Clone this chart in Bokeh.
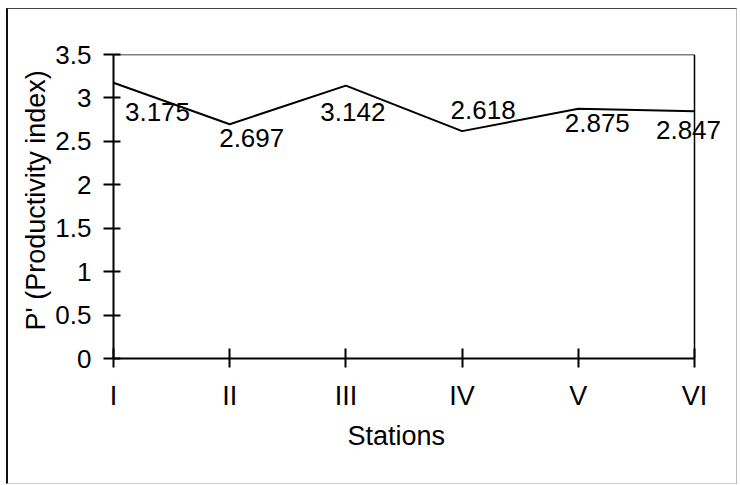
from bokeh.plotting import figure
from bokeh.models import Range1d, FixedTicker, Label, Title
from bokeh.embed import file_html
from bokeh.resources import INLINE

# ---- data ----
stations = ["I", "II", "III", "IV", "V", "VI"]
productivity = [3.175, 2.697, 3.142, 2.618, 2.875, 2.847]
label_texts = ["3.175", "2.697", "3.142", "2.618", "2.875", "2.847"]
y_ticks = [0, 0.5, 1, 1.5, 2, 2.5, 3, 3.5]
x_title = "Stations"
y_title = "P' (Productivity index)"

# ---- label placement (screen pixels, style only) ----
label_dx = [44, 22, 7, 21, 19, -6]
label_dy = [-29, -14, -26, 21, -14, -19]

FONT = "Liberation Sans"
positions = list(range(len(stations)))
x_last = positions[-1]
y_top = y_ticks[-1]

W, H = 731, 476
MB_L, MB_R, MB_T, MB_B = 105, 8, 45, 127
AXIS_PX = 581                      # pixel length of the I..VI span
frame_px = W - MB_L - MB_R
x_end = x_last * frame_px / AXIS_PX  # extra room right of VI for the last label

p = figure(width=W, height=H, output_backend="svg", toolbar_location=None,
           x_range=Range1d(0, x_end), y_range=Range1d(0, y_top),
           min_border_left=MB_L, min_border_right=MB_R, min_border_top=MB_T,
           min_border_bottom=MB_B)
p.styles = {"margin-left": "6px", "margin-top": "8px",
            "border-left": "2px solid #111", "border-top": "1px solid #444",
            "border-right": "1px solid #bbb", "border-bottom": "1px solid #ccc"}

p.xgrid.visible = False
p.ygrid.visible = False
p.outline_line_color = None
p.background_fill_color = "white"
p.border_fill_color = "white"

# top and right frame lines of the plot area (I..VI, 0..3.5)
p.segment(x0=[positions[0], x_last], y0=[y_top, y_ticks[0]],
          x1=[x_last, x_last], y1=[y_top, y_top],
          line_color="black", line_width=1.5)

p.line(positions, productivity, line_color="black", line_width=2)

for xi, yi, txt, dx, dy in zip(positions, productivity, label_texts, label_dx, label_dy):
    p.add_layout(Label(x=xi, y=yi, text=txt, x_offset=dx, y_offset=dy,
                       text_align="center", text_baseline="middle",
                       text_font=FONT, text_font_size="26px",
                       text_color="black"))

# x axis
p.xaxis.ticker = FixedTicker(ticks=positions)
p.xaxis.bounds = (positions[0], x_last)
p.xaxis.major_label_overrides = {i: s for i, s in enumerate(stations)}
# y axis
p.yaxis.ticker = FixedTicker(ticks=y_ticks)
p.yaxis.major_label_overrides = {t: (str(int(t)) if float(t).is_integer() else str(t)) for t in y_ticks}

for ax in (p.xaxis[0], p.yaxis[0]):
    ax.axis_line_color = "black"
    ax.axis_line_width = 2
    ax.major_tick_line_color = "black"
    ax.major_tick_line_width = 2
    ax.minor_tick_line_color = None
    ax.major_label_text_font = FONT
    ax.major_label_text_color = "black"

p.xaxis.major_label_text_font_size = "27px"
p.yaxis.major_label_text_font_size = "26px"

p.xaxis.major_tick_in = 10
p.xaxis.major_tick_out = 9
p.xaxis.major_label_standoff = 13
p.yaxis.major_tick_in = 7
p.yaxis.major_tick_out = 10
p.yaxis.major_label_standoff = 12

# axis titles (as titles so they can be centred on the I..VI span)
p.add_layout(Title(text=x_title, align="left", offset=234, standoff=10,
                   text_font=FONT, text_font_size="27px",
                   text_font_style="normal", text_color="black"), "below")
p.add_layout(Title(text=y_title, align="left", offset=28, standoff=4,
                   text_font=FONT, text_font_size="27px",
                   text_font_style="normal", text_color="black"), "left")

open("out.html", "w").write(file_html(p, INLINE))
